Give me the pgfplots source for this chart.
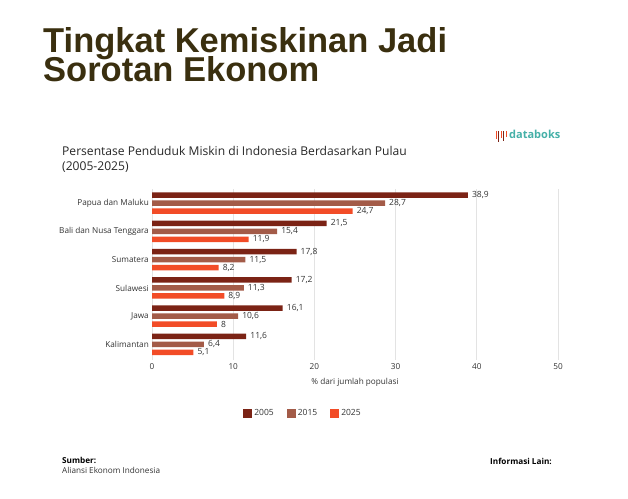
\documentclass[border=0pt]{standalone}
\usepackage{pgfplots}
\pgfplotsset{compat=1.18}
\usepackage{fontspec}
\setmainfont{Open Sans}
\newfontfamily\hfont{Liberation Sans}[BoldFont={Liberation Sans Bold}]
\definecolor{c2005}{HTML}{7B2315}
\definecolor{c2015}{HTML}{A35B48}
\definecolor{c2025}{HTML}{F24C27}
\definecolor{titlec}{HTML}{3A2F0F}
\definecolor{teal}{HTML}{45B0A8}
\definecolor{gridc}{HTML}{E3E3E3}
\definecolor{txt}{HTML}{333333}
\begin{document}
\begin{tikzpicture}[x=1pt,y=1pt]
\useasboundingbox (0pt,0pt) rectangle (628pt,498pt);
% judul
\node[anchor=base west,inner sep=0pt,text=titlec,font=\hfont\bfseries\fontsize{34.5}{29}\selectfont] at (43pt,445pt) {Tingkat Kemiskinan Jadi};
\node[anchor=base west,inner sep=0pt,text=titlec,font=\hfont\bfseries\fontsize{34.5}{29}\selectfont] at (43pt,416pt) {Sorotan Ekonom};
% subjudul
\node[anchor=base west,inner sep=0pt,text=black!85,font=\fontsize{12.1}{14}\selectfont] at (62pt,342pt) {Persentase Penduduk Miskin di Indonesia Berdasarkan Pulau};
\node[anchor=base west,inner sep=0pt,text=black!85,font=\fontsize{12.1}{14}\selectfont] at (62pt,327pt) {(2005-2025)};
% logo
\foreach \dx/\h/\c in {0/8/c2025,2.5/11/c2005,5/7/c2025,7.5/10/c2005,10/6/c2025}
  \draw[\c,line width=1pt] (496pt+\dx pt,367pt) -- (496pt+\dx pt,367pt-\h pt);
\node[anchor=base west,inner sep=0pt,text=teal,font=\bfseries\fontsize{11}{12}\selectfont] at (509pt,359pt) {databoks};
\begin{axis}[
    at={(152pt,138pt)}, anchor=south west,
    scale only axis, width=406pt, height=171pt,
    xbar, bar width=5.5pt,
    xmin=0, xmax=50, ymin=-0.55, ymax=5.5,
    axis line style={draw=none},
    xmajorgrids, grid style={gridc, line width=0.8pt},
    xtick={0,10,...,50},
    ytick={0,...,5},
    yticklabels={Kalimantan,Jawa,Sulawesi,Sumatera,Bali dan Nusa Tenggara,Papua dan Maluku},
    major tick length=0pt,
    ticklabel style={font=\fontsize{8.2}{10}\selectfont, text=txt},
    yticklabel style={anchor=east, inner sep=0pt, xshift=-3pt},
    xticklabel style={anchor=north, inner sep=0pt, yshift=-3pt},
    /pgf/number format/use comma,
    /pgf/number format/fixed,
    /pgf/number format/precision=1,
    /pgf/number format/assume math mode=true,
    xlabel={\% dari jumlah populasi},
    xlabel style={font=\fontsize{8.2}{10}\selectfont, text=txt, at={(axis description cs:0.5,0)}, anchor=north, yshift=-18pt, inner sep=0pt},
    nodes near coords,
    nodes near coords style={font=\fontsize{8.5}{10}\selectfont, text=txt, anchor=west, inner sep=0pt, xshift=4pt},
    legend columns=3,
    legend style={draw=none, at={(0.372,-0.31)}, anchor=center, font=\fontsize{8.5}{10}\selectfont, text=txt,
      /tikz/every even column/.append style={column sep=11pt}},
    legend image code/.code={\path[#1,draw=none] (0pt,-4.5pt) rectangle (9pt,4.5pt);},
  ]
  \addplot[fill=c2005, draw=none, bar shift=8pt] coordinates {
    (38.9,5) (21.5,4) (17.8,3) (17.2,2) (16.1,1) (11.6,0)};
  \addplot[fill=c2015, draw=none, bar shift=0pt] coordinates {
    (28.7,5) (15.4,4) (11.5,3) (11.3,2) (10.6,1) (6.4,0)};
  \addplot[fill=c2025, draw=none, bar shift=-8pt] coordinates {
    (24.7,5) (11.9,4) (8.2,3) (8.9,2) (8,1) (5.1,0)};
  \legend{2005,2015,2025}
\end{axis}
% sumber
\node[anchor=base west,inner sep=0pt,font=\bfseries\fontsize{8.2}{9}\selectfont] at (62pt,35pt) {Sumber:};
\node[anchor=base west,inner sep=0pt,text=txt,font=\fontsize{8.2}{9}\selectfont] at (62pt,25pt) {Aliansi Ekonom Indonesia};
\node[anchor=base west,inner sep=0pt,font=\bfseries\fontsize{8.2}{9}\selectfont] at (490pt,34pt) {Informasi Lain:};
\end{tikzpicture}
\end{document}
